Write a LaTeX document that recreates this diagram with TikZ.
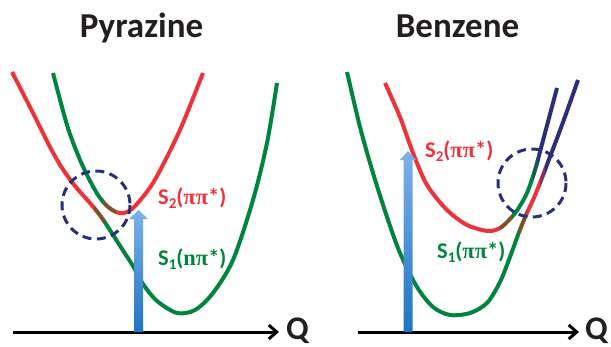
\documentclass[tikz,border=0pt]{standalone}
\usepackage{fontspec}
\setmainfont{Carlito}
\newfontfamily\greekfont{Liberation Serif}
\usetikzlibrary{arrows.meta}
\definecolor{s2red}{RGB}{237,50,58}
\definecolor{s1green}{RGB}{0,133,62}
\definecolor{cinavy}{RGB}{43,47,120}
\definecolor{mixbrown}{RGB}{125,82,40}
\definecolor{titlegray}{RGB}{35,31,32}
\definecolor{uvlight}{RGB}{125,178,232}
\definecolor{uvdark}{RGB}{30,116,196}
\newcommand{\lowsub}[1]{\raisebox{-4pt}{\fontsize{15}{15}\selectfont #1}}
\newcommand{\grk}[1]{{\greekfont\bfseries #1}}
\begin{document}
\begin{tikzpicture}[x=1pt,y=-1pt,
    pes/.style={line width=4pt},
    qaxis/.style={line width=3pt,-{Straight Barb[length=8pt,width=14pt]}},
    title/.style={font=\fontsize{35}{40}\selectfont\bfseries,text=titlegray,anchor=base},
    qlabel/.style={font=\fontsize{33}{38}\selectfont\bfseries,text=titlegray,anchor=base west,inner sep=0pt},
    lbl/.style={font=\fontsize{22.5}{26}\selectfont\bfseries,anchor=base west,inner sep=0pt},
    xcirc/.style={draw=cinavy,line width=3pt,dash pattern=on 9pt off 5.5pt},
    uvarrow/.style={top color=uvlight,bottom color=uvdark}]
    \useasboundingbox (0,0) rectangle (611,346);

    % Pyrazine: titel, as en labels.
    \node[title] (pyrtitle) at (141.5,37) {Pyrazine};
    \coordinate (pyrO) at (13,332);
    \coordinate (pyrE) at (279,332);
    \node[qlabel] (pyrQ) at (286,339) {Q};
    \draw[qaxis] (pyrO) -- (pyrE);

    \def\pyrup{plot[smooth] coordinates {(53,73) (67,125) (78,155) (88,177)
        (98,195) (107,206) (116,212) (124,213) (132,209) (142,198) (153,183)
        (168,155) (183,123) (203,73)}}
    \def\pyrlow{plot[smooth] coordinates {(12,72) (33,113) (50,147) (62,168)
        (75,186) (90,203) (99,214) (106,224) (115,238) (124,252) (133,266)
        (143,284) (157,301) (177,313) (195,310) (213,293) (233,260) (253,200)
        (267,143) (277,83)}}
    \begin{scope}\clip (0,0) rectangle (103,346); \draw[pes,s1green] \pyrup; \end{scope}
    \begin{scope}\clip (103,0) rectangle (116,346); \draw[pes,mixbrown] \pyrup; \end{scope}
    \begin{scope}\clip (116,0) rectangle (300,346); \draw[pes,s2red] \pyrup; \end{scope}
    \begin{scope}\clip (0,0) rectangle (94,346); \draw[pes,s2red] \pyrlow; \end{scope}
    \begin{scope}\clip (94,0) rectangle (105,346); \draw[pes,mixbrown] \pyrlow; \end{scope}
    \begin{scope}\clip (105,0) rectangle (300,346); \draw[pes,s1green] \pyrlow; \end{scope}

    \path[uvarrow] (134,332) -- (134,219) -- (129,219) -- (138.5,210)
        -- (148,219) -- (143,219) -- (143,332) -- cycle;
    \draw[xcirc] (96,205) circle[radius=34];
    \node[lbl,text=s2red] (pyrS2) at (158,204) {S\lowsub{2}(\grk{ππ}*)};
    \node[lbl,text=s1green] (pyrS1) at (158,265) {S\lowsub{1}(\grk{nπ}*)};

    % Benzene.
    \node[title] (benztitle) at (457.5,37) {Benzene};
    \coordinate (benzO) at (358,332);
    \coordinate (benzE) at (579,332);
    \node[qlabel] (benzQ) at (585,339) {Q};
    \draw[qaxis] (benzO) -- (benzE);

    \def\benzup{plot[smooth] coordinates {(385,83) (400,117) (413,153)
        (427,185) (447,210) (467,225) (488,231) (500,228) (510,219) (518,209)
        (527,193) (535,170) (541,148) (557,88)}}
    \def\benzlow{plot[smooth] coordinates {(347,72) (360,127) (373,173)
        (387,217) (400,253) (417,287) (433,307) (450,315) (470,313) (487,303)
        (500,282) (510,257) (518,235) (526,215) (533,200) (540,183) (548,162)
        (562,125) (578,80)}}
    \begin{scope}\clip (340,0) rectangle (500,346); \draw[pes,s2red] \benzup; \end{scope}
    \begin{scope}\clip (500,0) rectangle (512,346); \draw[pes,mixbrown] \benzup; \end{scope}
    \begin{scope}\clip (512,0) rectangle (533,346); \draw[pes,s1green] \benzup; \end{scope}
    \begin{scope}\clip (533,0) rectangle (538,346); \draw[pes,s1green!50!cinavy] \benzup; \end{scope}
    \begin{scope}\clip (538,0) rectangle (611,346); \draw[pes,cinavy] \benzup; \end{scope}
    \begin{scope}\clip (340,0) rectangle (519,346); \draw[pes,s1green] \benzlow; \end{scope}
    \begin{scope}\clip (519,0) rectangle (527,346); \draw[pes,mixbrown] \benzlow; \end{scope}
    \begin{scope}\clip (527,0) rectangle (540,346); \draw[pes,s2red] \benzlow; \end{scope}
    \begin{scope}\clip (540,0) rectangle (545,346); \draw[pes,s2red!50!cinavy] \benzlow; \end{scope}
    \begin{scope}\clip (545,0) rectangle (611,346); \draw[pes,cinavy] \benzlow; \end{scope}

    \path[uvarrow] (403.5,332) -- (403.5,160) -- (400,160) -- (408,151)
        -- (416,160) -- (412.5,160) -- (412.5,332) -- cycle;
    \draw[xcirc] (532,183) circle[radius=34];
    \node[lbl,text=s2red] (benzS2) at (425,157) {S\lowsub{2}(\grk{ππ}*)};
    \node[lbl,text=s1green] (benzS1) at (437,258) {S\lowsub{1}(\grk{ππ}*)};
\end{tikzpicture}
\end{document}
